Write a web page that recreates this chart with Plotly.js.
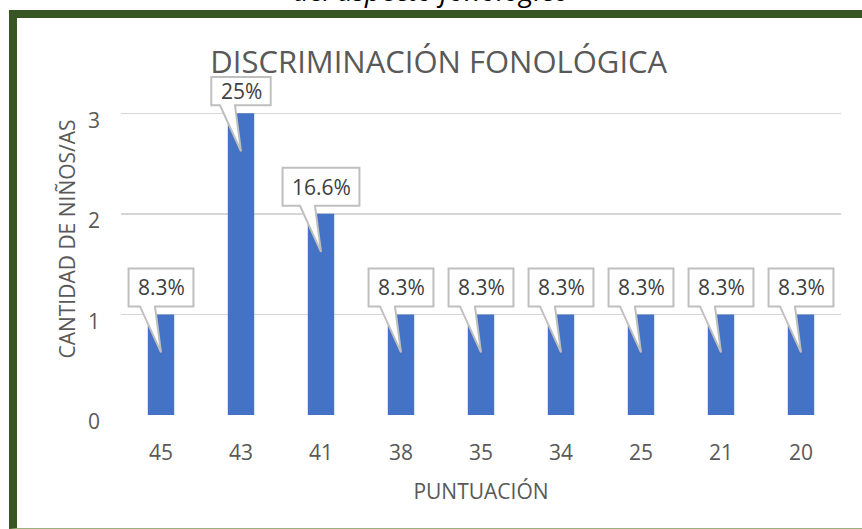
<!DOCTYPE html>
<html>
<head>
<meta charset="utf-8">
<script src="https://cdn.plot.ly/plotly-3.0.1.min.js"></script>
<style>
  html, body { margin: 0; padding: 0; background: #ffffff; overflow: hidden; }
  #wrap { position: relative; width: 862px; height: 529px; overflow: hidden; }
  #chart { position: absolute; left: 0; top: 0; width: 862px; height: 529px; }
  #frame { position: absolute; left: 9px; top: 10px; width: 900px; height: 510px;
           border-left: 8px solid #375623; border-top: 8px solid #375623;
           border-bottom: 1px solid #9bb07f; pointer-events: none; }
  #caption { position: absolute; left: 0; width: 862px; top: -23px; text-align: center;
             font-family: "Open Sans", sans-serif; font-style: italic; font-size: 28px;
             line-height: 26px; color: #000; white-space: nowrap; }
</style>
</head>
<body>
<div id="wrap">
  <div id="caption">del aspecto fonológico</div>
  <div id="chart"></div>
  <div id="frame"></div>
</div>
<script>
// ---- data ----
const categories = ["45", "43", "41", "38", "35", "34", "25", "21", "20"];
const counts = [1, 3, 2, 1, 1, 1, 1, 1, 1];
const percentLabels = ["8.3%", "25%", "16.6%", "8.3%", "8.3%", "8.3%", "8.3%", "8.3%", "8.3%"];
const yTicks = [0, 1, 2, 3];
const chartTitle = "DISCRIMINACIÓN FONOLÓGICA";
const xTitle = "PUNTUACIÓN";
const yTitle = "CANTIDAD DE NIÑOS/AS";

// ---- styling ----
const FONT = "Open Sans, sans-serif";
const GRAY = "#595959";
const LABEL = "#404040";
const positions = categories.map((_, i) => i);
const PX_PER_UNIT = 302 / 3;   // plot height per y unit
const LABEL_LIMIT = 3.36;      // callouts may not rise above this y value

const canvas = document.createElement("canvas");
const ctx = canvas.getContext("2d");
ctx.font = "21px 'Open Sans'";

const shapes = [];
const annotations = [];
positions.forEach((x, i) => {
  const w = ctx.measureText(percentLabels[i]).width + 18;
  const h = w / 2;
  const top = Math.min(46, (LABEL_LIMIT - counts[i]) * PX_PER_UNIT);
  shapes.push({
    type: "path",
    xref: "x", yref: "y",
    xsizemode: "pixel", ysizemode: "pixel",
    xanchor: x, yanchor: counts[i],
    path: `M ${-h},8 L -21,8 L 0,-38 L -6,8 L ${h},8 L ${h},${top} L ${-h},${top} Z`,
    fillcolor: "#ffffff",
    line: { color: "#bfbfbf", width: 2 },
    layer: "above"
  });
  annotations.push({
    x: x, y: counts[i], xref: "x", yref: "y",
    yshift: (8 + top) / 2, showarrow: false,
    text: percentLabels[i],
    font: { family: FONT, size: 21, color: LABEL },
    xanchor: "center", yanchor: "middle"
  });
});

const trace = {
  type: "bar",
  x: positions,
  y: counts,
  width: 0.33,
  marker: { color: "#4472c4" },
  hoverinfo: "skip"
};

const layout = {
  width: 862, height: 529,
  margin: { l: 121, r: 21, t: 62.7, b: 114 },
  paper_bgcolor: "rgba(0,0,0,0)",
  plot_bgcolor: "rgba(0,0,0,0)",
  font: { family: FONT, color: GRAY },
  showlegend: false,
  title: {
    text: chartTitle,
    font: { family: FONT, size: 31, color: GRAY },
    x: 0.509, xref: "container", xanchor: "center",
    y: 1 - 62 / 529, yref: "container", yanchor: "middle"
  },
  xaxis: {
    range: [-0.5, categories.length - 0.5],
    tickmode: "array", tickvals: positions, ticktext: categories,
    showgrid: false, zeroline: false, showline: false, ticks: "",
    tickfont: { family: FONT, size: 21, color: GRAY },
    ticklabelstandoff: 23,
    automargin: true,
    title: { text: xTitle, font: { family: FONT, size: 21, color: GRAY }, standoff: 19 },
    fixedrange: true
  },
  yaxis: {
    range: [0, 3.5], tickmode: "array", tickvals: yTicks,
    showgrid: true, gridcolor: "#d6d6d6", gridwidth: 1.5,
    zeroline: false, showline: false, ticks: "",
    tickfont: { family: FONT, size: 21, color: GRAY },
    ticklabelstandoff: 20, ticklabelshift: 7,
    automargin: true,
    title: { text: yTitle, font: { family: FONT, size: 21, color: GRAY }, standoff: 6 },
    fixedrange: true
  },
  shapes: shapes,
  annotations: annotations
};

Plotly.newPlot("chart", [trace], layout, { displayModeBar: false, staticPlot: true });
</script>
</body>
</html>
